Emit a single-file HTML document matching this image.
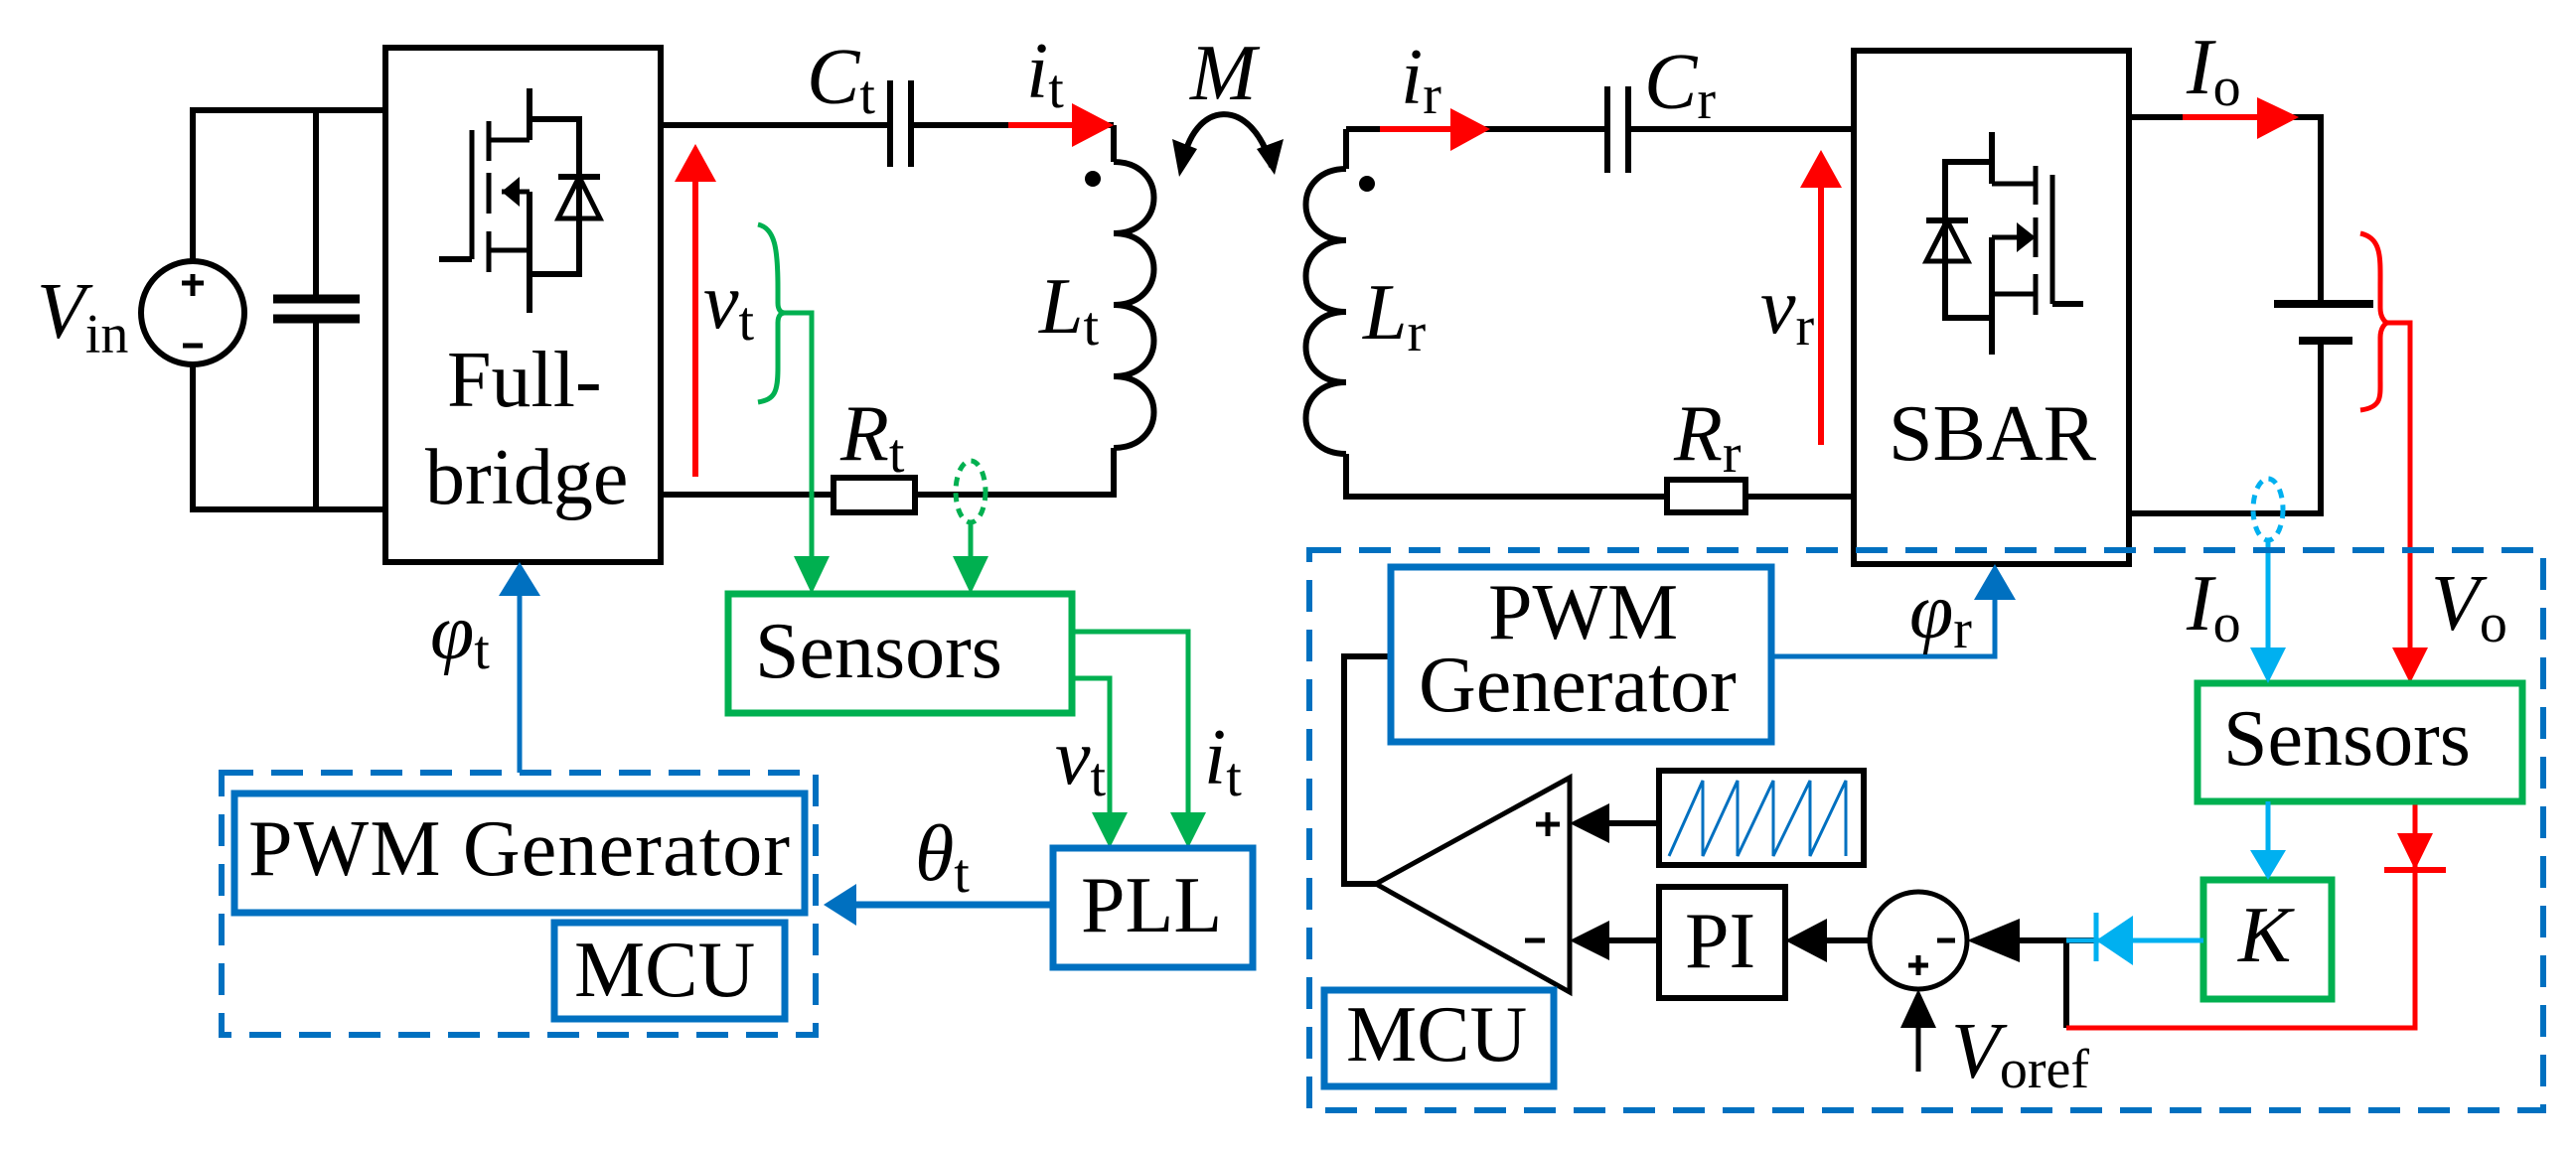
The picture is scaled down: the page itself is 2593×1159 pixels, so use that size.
<!DOCTYPE html>
<html><head><meta charset="utf-8"><style>
html,body{margin:0;padding:0;background:#fff;}
svg{display:block;}
.l{font-style:italic;font-size:80px;}
.s{font-style:normal;font-size:56px;}
.t{font-size:80px;}
</style></head><body>
<svg width="2593" height="1159" viewBox="0 0 2593 1159" xmlns="http://www.w3.org/2000/svg" font-family="'Liberation Serif', 'DejaVu Serif', serif">
<g fill="none" stroke="#000" stroke-width="6">
<polyline points="388,111 194,111 194,261"/>
<polyline points="194,369 194,513 388,513"/>
<line x1="318" y1="111" x2="318" y2="301"/>
<line x1="318" y1="321" x2="318" y2="513"/>
<line x1="275" y1="301" x2="362" y2="301" stroke-width="9"/>
<line x1="275" y1="321" x2="362" y2="321" stroke-width="9"/>
<circle cx="194" cy="315" r="52"/>
<line x1="194" y1="276" x2="194" y2="298" stroke-width="5"/>
<line x1="183" y1="285" x2="205" y2="285" stroke-width="5"/>
<line x1="184" y1="348" x2="204" y2="348" stroke-width="5"/>
<rect x="388" y="48" width="277" height="518"/>
<polyline points="533,89 533,120 583,120 583,276 533,276"/>
<line x1="533" y1="120" x2="533" y2="141"/>
<line x1="533" y1="193" x2="533" y2="315"/>
<line x1="492" y1="122" x2="492" y2="162" stroke-width="5"/>
<line x1="492" y1="174" x2="492" y2="215" stroke-width="5"/>
<line x1="492" y1="233" x2="492" y2="274" stroke-width="5"/>
<line x1="475" y1="131" x2="475" y2="261" stroke-width="5"/>
<line x1="442" y1="261" x2="475" y2="261"/>
<line x1="492" y1="141" x2="533" y2="141" stroke-width="5"/>
<line x1="505" y1="193" x2="533" y2="193" stroke-width="5"/>
<line x1="492" y1="252" x2="533" y2="252" stroke-width="5"/>
<polygon points="562,220 604,220 583,178" stroke-width="5"/>
<line x1="562" y1="178" x2="604" y2="178"/>
<line x1="665" y1="126" x2="896" y2="126"/>
<line x1="917" y1="126" x2="1121" y2="126"/>
<line x1="896" y1="81" x2="896" y2="168"/>
<line x1="917" y1="81" x2="917" y2="168"/>
<line x1="1121" y1="126" x2="1121" y2="163"/>
<path d="M1121,163 C1175,163 1175,235 1121,235 C1175,235 1175,307 1121,307 C1175,307 1175,379 1121,379 C1175,379 1175,451 1121,451"/>
<polyline points="1121,451 1121,498 921,498"/>
<line x1="839" y1="498" x2="665" y2="498"/>
<rect x="839" y="481" width="82" height="35" fill="#fff"/>
<path d="M1190,168 C1200,100 1260,95 1280,168"/>
<line x1="1355" y1="130" x2="1618" y2="130"/>
<line x1="1639" y1="130" x2="1866" y2="130"/>
<line x1="1618" y1="87" x2="1618" y2="174"/>
<line x1="1639" y1="87" x2="1639" y2="174"/>
<line x1="1355" y1="130" x2="1355" y2="170"/>
<path d="M1355,170 C1301,170 1301,242 1355,242 C1301,242 1301,314 1355,314 C1301,314 1301,385 1355,385 C1301,385 1301,457 1355,457"/>
<polyline points="1355,457 1355,500 1678,500"/>
<line x1="1757" y1="500" x2="1866" y2="500"/>
<rect x="1678" y="483" width="79" height="33" fill="#fff"/>
<rect x="1866" y="51" width="277" height="517"/>
<line x1="2005" y1="133" x2="2005" y2="185"/>
<line x1="2005" y1="239" x2="2005" y2="357"/>
<polyline points="2005,163 1958,163 1958,320 2005,320"/>
<polygon points="1939,263 1981,263 1960,222" stroke-width="5"/>
<line x1="1939" y1="222" x2="1981" y2="222"/>
<line x1="2049" y1="167" x2="2049" y2="206" stroke-width="5"/>
<line x1="2049" y1="219" x2="2049" y2="259" stroke-width="5"/>
<line x1="2049" y1="276" x2="2049" y2="317" stroke-width="5"/>
<line x1="2066" y1="176" x2="2066" y2="306" stroke-width="5"/>
<line x1="2066" y1="306" x2="2097" y2="306"/>
<line x1="2005" y1="185" x2="2049" y2="185" stroke-width="5"/>
<line x1="2005" y1="239" x2="2030" y2="239" stroke-width="5"/>
<line x1="2005" y1="296" x2="2049" y2="296" stroke-width="5"/>
<polyline points="2143,118 2336,118 2336,306"/>
<polyline points="2336,343 2336,517 2143,517"/>
<line x1="2289" y1="306" x2="2389" y2="306" stroke-width="8"/>
<line x1="2314" y1="343" x2="2368" y2="343" stroke-width="8"/>
<polyline points="1400,661 1353,661 1353,890 1385,890"/>
<polygon points="1385,890 1580,783 1580,999" stroke-width="5"/>
<line x1="1670" y1="829" x2="1615" y2="829"/>
<line x1="1670" y1="947" x2="1615" y2="947"/>
<line x1="1882" y1="947" x2="1835" y2="947"/>
<polyline points="2110,947 2080,947 2080,1035"/>
<line x1="2080" y1="947" x2="2030" y2="947"/>
<rect x="1670" y="776" width="206" height="95"/>
<rect x="1670" y="893" width="127" height="112"/>
<circle cx="1931" cy="947" r="49" stroke-width="5"/>
<line x1="1931" y1="1079" x2="1931" y2="1030" stroke-width="5"/>
</g>
<g fill="#000">
<polygon points="505,193 523,178 523,208"/>
<polygon points="2049,239 2030,224 2030,254"/>
<polygon points="1580,829 1620,809 1620,849"/>
<polygon points="1580,947 1620,927 1620,967"/>
<polygon points="1797,947 1839,925 1839,969"/>
<polygon points="1980,947 2033,925 2033,969"/>
<polygon points="1931,996 1913,1035 1949,1035"/>
<polygon points="1187,178 1180,140 1205,150"/>
<polygon points="1283,176 1265,150 1292,140"/>
<circle cx="1100" cy="180" r="8"/>
<circle cx="1376" cy="185" r="8"/>
</g>
<polyline points="1680,862 1714,786 1714,862 1749,786 1749,862 1785,786 1785,862 1822,786 1822,862 1858,786 1858,862" fill="none" stroke="#0070c0" stroke-width="3"/>
<g stroke="#ff0000" stroke-width="6" fill="none">
<line x1="1015" y1="126" x2="1085" y2="126"/>
<line x1="700" y1="480" x2="700" y2="180"/>
<line x1="1389" y1="130" x2="1465" y2="130"/>
<line x1="1833" y1="448" x2="1833" y2="185"/>
<line x1="2197" y1="118" x2="2275" y2="118"/>
<path d="M2376,235 C2398,240 2396,260 2396,290 L2396,310 C2396,320 2401,325 2404,325 C2401,325 2396,330 2396,340 L2396,380 C2396,400 2398,410 2376,413" stroke-width="5"/>
<polyline points="2404,325 2426,325 2426,652" stroke-width="5"/>
<polyline points="2431,807 2431,1035 2080,1035" stroke-width="5"/>
<line x1="2400" y1="876" x2="2462" y2="876"/>
</g>
<g fill="#ff0000">
<polygon points="1121,126 1079,104 1079,148"/>
<polygon points="700,145 679,183 721,183"/>
<polygon points="1500,130 1460,109 1460,152"/>
<polygon points="1833,151 1812,189 1854,189"/>
<polygon points="2314,118 2272,98 2272,140"/>
<polygon points="2426,688 2408,652 2444,652"/>
<polygon points="2431,876 2413,839 2449,839"/>
</g>
<g stroke="#00b050" stroke-width="5" fill="none">
<path d="M763,226 C780,230 783,250 783,290 L783,305 C783,312 786,315 790,315 C786,315 783,318 783,325 L783,370 C783,395 780,402 763,405"/>
<polyline points="790,315 817,315 817,565"/>
<ellipse cx="977" cy="495" rx="15" ry="31" stroke-dasharray="9,7"/>
<line x1="977" y1="526" x2="977" y2="565"/>
<rect x="733" y="598" width="346" height="120" stroke-width="7"/>
<polyline points="1079,636 1196,636 1196,822"/>
<polyline points="1079,683 1117,683 1117,822"/>
<rect x="2212" y="688" width="327" height="119" stroke-width="7"/>
<rect x="2218" y="886" width="129" height="120" stroke-width="7"/>
</g>
<g fill="#00b050">
<polygon points="817,598 799,560 835,560"/>
<polygon points="977,598 959,560 995,560"/>
<polygon points="1117,854 1099,818 1135,818"/>
<polygon points="1196,854 1178,818 1214,818"/>
</g>
<g stroke="#00b0f0" stroke-width="5" fill="none">
<ellipse cx="2283" cy="513" rx="15" ry="31" stroke-dasharray="9,7"/>
<line x1="2283" y1="544" x2="2283" y2="652"/>
<line x1="2283" y1="807" x2="2283" y2="856"/>
<line x1="2218" y1="947" x2="2080" y2="947"/>
<line x1="2110" y1="919" x2="2110" y2="968"/>
</g>
<g fill="#00b0f0">
<polygon points="2283,688 2265,652 2301,652"/>
<polygon points="2283,886 2265,856 2301,856"/>
<polygon points="2110,947 2147,922 2147,972"/>
</g>
<g stroke="#0070c0" stroke-width="7" fill="none">
<rect x="223" y="778" width="598" height="264" stroke-dasharray="32,18" stroke-width="6"/>
<rect x="1318" y="554" width="1242" height="564" stroke-dasharray="32,18" stroke-width="6"/>
<rect x="236" y="799" width="574" height="120"/>
<rect x="558" y="929" width="232" height="97"/>
<rect x="1060" y="854" width="201" height="120"/>
<rect x="1400" y="571" width="383" height="176"/>
<rect x="1333" y="997" width="231" height="97"/>
<line x1="523" y1="778" x2="523" y2="598" stroke-width="5"/>
<line x1="1060" y1="911" x2="860" y2="911"/>
<polyline points="1783,661 2008,661 2008,604" stroke-width="5"/>
</g>
<g fill="#0070c0">
<polygon points="523,566 502,600 544,600"/>
<polygon points="829,911 862,890 862,932"/>
<polygon points="2008,568 1987,604 2029,604"/>
</g>
<g stroke="#000" stroke-width="5">
<line x1="1558" y1="818" x2="1558" y2="842"/><line x1="1546" y1="830" x2="1570" y2="830"/>
<line x1="1535" y1="947" x2="1555" y2="947"/>
<line x1="1950" y1="947" x2="1968" y2="947"/>
<line x1="1931" y1="962" x2="1931" y2="982"/><line x1="1921" y1="972" x2="1941" y2="972"/>
</g>
<g font-family="'Liberation Serif', 'DejaVu Serif', serif" fill="#000">
<text x="37" y="340" class="l">V<tspan class="s" dy="15">in</tspan></text>
<text x="450" y="409" class="t">Full-</text>
<text x="428" y="507" class="t">bridge</text>
<text x="812" y="104" class="l">C<tspan class="s" dy="10">t</tspan></text>
<text x="1033" y="98" class="l">i<tspan class="s" dy="10">t</tspan></text>
<text x="1198" y="100" class="l">M</text>
<text x="1046" y="335" class="l">L<tspan class="s" dy="12">t</tspan></text>
<text x="708" y="330" class="l">v<tspan class="s" dy="12">t</tspan></text>
<text x="846" y="463" class="l">R<tspan class="s" dy="12">t</tspan></text>
<text x="1410" y="104" class="l">i<tspan class="s" dy="10">r</tspan></text>
<text x="1655" y="109" class="l">C<tspan class="s" dy="10">r</tspan></text>
<text x="1372" y="341" class="l">L<tspan class="s" dy="12">r</tspan></text>
<text x="1772" y="335" class="l">v<tspan class="s" dy="12">r</tspan></text>
<text x="1685" y="463" class="l">R<tspan class="s" dy="12">r</tspan></text>
<text x="1901" y="463" class="t">SBAR</text>
<text x="2201" y="94" class="l">I<tspan class="s" dy="12">o</tspan></text>
<text x="760" y="682" class="t">Sensors</text>
<text x="433" y="663" class="l">φ<tspan class="s" dy="10">t</tspan></text>
<text x="1062" y="789" class="l">v<tspan class="s" dy="12">t</tspan></text>
<text x="1212" y="789" class="l">i<tspan class="s" dy="12">t</tspan></text>
<text x="921" y="886" class="l">θ<tspan class="s" dy="12">t</tspan></text>
<text x="1088" y="938" class="t">PLL</text>
<text x="250" y="881" class="t" textLength="545">PWM Generator</text>
<text x="578" y="1003" class="t">MCU</text>
<text x="1498" y="643" class="t">PWM</text>
<text x="1428" y="716" class="t">Generator</text>
<text x="1922" y="642" class="l">φ<tspan class="s" dy="10">r</tspan></text>
<text x="2201" y="634" class="l">I<tspan class="s" dy="12">o</tspan></text>
<text x="2447" y="634" class="l">V<tspan class="s" dy="12">o</tspan></text>
<text x="2238" y="770" class="t">Sensors</text>
<text x="2253" y="968" class="l">K</text>
<text x="1696" y="974" class="t">PI</text>
<text x="1964" y="1085" class="l">V<tspan class="s" dy="10">oref</tspan></text>
<text x="1355" y="1068" class="t">MCU</text>
</g>
</svg>
</body></html>
